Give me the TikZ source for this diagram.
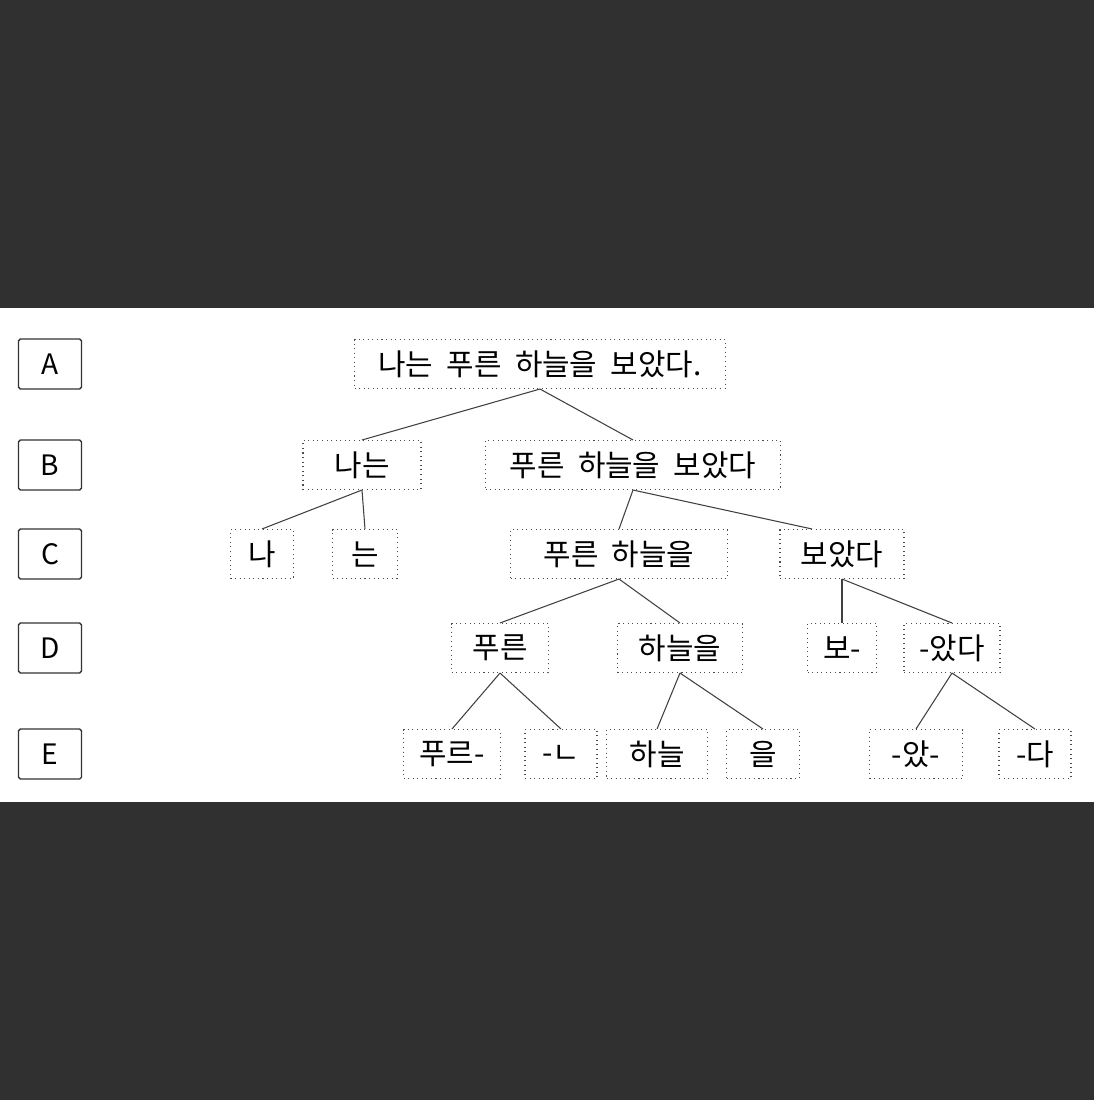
\documentclass[tikz,border=0pt]{standalone}
\usepackage{fontspec}
\setmainfont{Noto Sans CJK KR}[WordSpace=2]
\usepackage{tikz}
\usepackage{xcolor}

\definecolor{bgdark}{HTML}{303030}

\tikzset{
    lvl/.style={draw=black!80, line width=0.8pt, rounded corners=1pt, minimum width=1.26cm, minimum height=1cm, inner sep=0pt, font=\fontsize{16}{19}\selectfont},
    word/.style={draw=black!70, dotted, line width=0.6pt, minimum height=0.98cm, inner sep=0pt, font=\fontsize{17}{20}\selectfont},
    link/.style={draw=black!75, semithick}
}

\begin{document}
\begin{tikzpicture}[x=0.02cm, y=-0.02cm]
    % Background
    \fill[bgdark] (0,0) rectangle (1094,1100);
    \fill[white] (0,308) rectangle (1094,802);

    % Level labels
    \node[lvl] (lA) at (50,364) {A};
    \node[lvl] (lB) at (50,465) {B};
    \node[lvl] (lC) at (50,554) {C};
    \node[lvl] (lD) at (50,648) {D};
    \node[lvl] (lE) at (50,754) {E};

    % Level A
    \node[word, minimum width=7.42cm] (sent) at (540,364) {나는 푸른 하늘을 보았다.};

    % Level B
    \node[word, minimum width=2.36cm] (naneun) at (362,465) {나는};
    \node[word, minimum width=5.9cm] (pred) at (633,465) {푸른 하늘을 보았다};

    % Level C
    \node[word, minimum width=1.26cm] (na) at (262,554) {나};
    \node[word, minimum width=1.3cm] (neun) at (365,554) {는};
    \node[word, minimum width=4.34cm] (obj) at (619,554) {푸른 하늘을};
    \node[word, minimum width=2.48cm] (boatda) at (842,554) {보았다};

    % Level D
    \node[word, minimum width=1.94cm] (pureun) at (500,648) {푸른};
    \node[word, minimum width=2.5cm] (haneul) at (680,648) {하늘을};
    \node[word, minimum width=1.38cm] (bo) at (842,648) {보-};
    \node[word, minimum width=1.92cm] (atda) at (952,648) {-았다};

    % Level E
    \node[word, minimum width=1.94cm] (pureu) at (452,754) {푸르-};
    \node[word, minimum width=1.44cm] (nieun) at (561,754) {-ㄴ};
    \node[word, minimum width=2.02cm] (sky) at (657,754) {하늘};
    \node[word, minimum width=1.46cm] (eul) at (763,754) {을};
    \node[word, minimum width=1.86cm] (at) at (916,754) {-았-};
    \node[word, minimum width=1.44cm] (da) at (1035,754) {-다};

    % Edges
    \draw[link] (sent.south) -- (naneun.north);
    \draw[link] (sent.south) -- (pred.north);
    \draw[link] (naneun.south) -- (na.north);
    \draw[link] (naneun.south) -- (neun.north);
    \draw[link] (pred.south) -- (obj.north);
    \draw[link] (pred.south) -- ([xshift=-0.6cm]boatda.north);
    \draw[link] (obj.south) -- (pureun.north);
    \draw[link] (obj.south) -- (haneul.north);
    \draw[link] (boatda.south) -- (bo.north);
    \draw[link] (boatda.south) -- (atda.north);
    \draw[link] (pureun.south) -- (pureu.north);
    \draw[link] (pureun.south) -- (nieun.north);
    \draw[link] (haneul.south) -- (sky.north);
    \draw[link] (haneul.south) -- (eul.north);
    \draw[link] (atda.south) -- (at.north);
    \draw[link] (atda.south) -- (da.north);
\end{tikzpicture}
\end{document}
